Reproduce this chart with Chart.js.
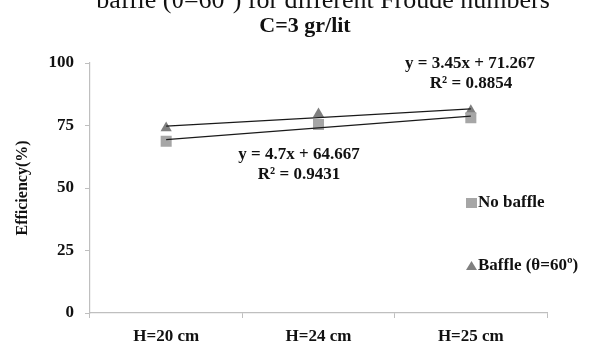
<!DOCTYPE html>
<html>
<head>
<meta charset="utf-8">
<script src="https://cdn.jsdelivr.net/npm/chart.js@4.4.1/dist/chart.umd.min.js"></script>
<style>
  html, body { margin: 0; padding: 0; background: #fff; }
  #wrap { width: 590px; height: 345px; position: relative; }
</style>
</head>
<body>
<div id="wrap"><canvas id="c" width="590" height="345"></canvas></div>
<script>
// ---- data ----
const categories = ['H=20 cm', 'H=24 cm', 'H=25 cm'];
const noBaffle = [68.7, 75.4, 78.1];
const baffle60 = [74.0, 79.6, 80.9];
// linear trendlines (values of the displayed equations at x = 1, 2, 3)
const trendNoBaffle = [69.367, 74.067, 78.767];
const trendBaffle = [74.717, 78.167, 81.617];
const yTicks = [0, 25, 50, 75, 100];
const seriesLabels = ['No baffle', 'Baffle (θ=60º)'];
const equationLabels = [
  ['y = 4.7x + 64.667', 'R² = 0.9431'],
  ['y = 3.45x + 71.267', 'R² = 0.8854']
];
const titleText = 'C=3 gr/lit';
const captionText = 'baffle (θ=60º) for different Froude numbers';
const yTitle = 'Efficiency(%)';

const SERIF = '"Liberation Serif", "Times New Roman", serif';

const overlayPlugin = {
  id: 'overlay',
  afterDraw(chart) {
    const ctx = chart.ctx;
    ctx.save();
    // cropped caption at very top
    ctx.fillStyle = '#111';
    ctx.font = '26px ' + SERIF;
    ctx.textAlign = 'center';
    ctx.textBaseline = 'alphabetic';
    ctx.fillText(captionText, 323, 8);

    // chart title
    ctx.font = 'bold 22px ' + SERIF;
    ctx.fillText(titleText, 305, 32);

    // trendline equations
    ctx.font = 'bold 17px ' + SERIF;
    ctx.textBaseline = 'middle';
    ctx.fillText(equationLabels[0][0], 299, 155);
    ctx.fillText(equationLabels[0][1], 299, 175);
    ctx.fillText(equationLabels[1][0], 470, 64);
    ctx.fillText(equationLabels[1][1], 471, 84);

    // legend
    const ds = chart.data.datasets;
    ctx.textAlign = 'left';
    ctx.fillStyle = ds[0].pointBackgroundColor;
    ctx.fillRect(466, 198, 11, 10);
    ctx.fillStyle = '#111';
    ctx.fillText(ds[0].label, 478, 203);
    ctx.fillStyle = ds[1].pointBackgroundColor;
    ctx.beginPath();
    ctx.moveTo(471.5, 261);
    ctx.lineTo(477, 270);
    ctx.lineTo(466, 270);
    ctx.closePath();
    ctx.fill();
    ctx.fillStyle = '#111';
    ctx.fillText(ds[1].label, 478, 266);
    ctx.restore();
  }
};

new Chart(document.getElementById('c'), {
  type: 'line',
  data: {
    labels: categories,
    datasets: [
      {
        label: seriesLabels[0],
        data: noBaffle,
        showLine: false,
        pointStyle: 'rect',
        pointRadius: 7.8,
        pointHoverRadius: 7.8,
        pointBackgroundColor: '#a6a6a6',
        pointBorderColor: '#a6a6a6',
        pointBorderWidth: 0,
        order: 1
      },
      {
        label: seriesLabels[1],
        data: baffle60,
        showLine: false,
        pointStyle: 'triangle',
        pointRadius: 6.5,
        pointHoverRadius: 6.5,
        pointBackgroundColor: '#7f7f7f',
        pointBorderColor: '#7f7f7f',
        pointBorderWidth: 0,
        order: 2
      },
      {
        label: 'trend1',
        data: trendNoBaffle,
        borderColor: '#1a1a1a',
        borderWidth: 1.2,
        pointRadius: 0,
        fill: false,
        order: 0
      },
      {
        label: 'trend2',
        data: trendBaffle,
        borderColor: '#1a1a1a',
        borderWidth: 1.2,
        pointRadius: 0,
        fill: false,
        order: 0
      }
    ]
  },
  options: {
    responsive: false,
    animation: false,
    events: [],
    layout: { padding: { left: 0, right: 43, top: 63, bottom: 0 } },
    plugins: {
      legend: { display: false },
      tooltip: { enabled: false },
      title: { display: false }
    },
    scales: {
      x: {
        type: 'category',
        offset: true,
        afterFit(scale) { scale.height = 32; },
        border: { display: true, color: '#bfbfbf', width: 1.2 },
        grid: { display: true, drawOnChartArea: false, drawTicks: true, tickLength: 5, color: '#bfbfbf', offset: true },
        ticks: { color: '#111', font: { family: SERIF, size: 17, weight: 'bold' }, padding: 8, maxRotation: 0 }
      },
      y: {
        min: 0,
        max: 100,
        afterFit(scale) { scale.width = 90; },
        afterBuildTicks(scale) { scale.ticks = yTicks.map(v => ({ value: v })); },
        border: { display: true, color: '#bfbfbf', width: 1.2 },
        grid: { display: true, drawOnChartArea: false, drawTicks: true, tickLength: 5, color: '#bfbfbf' },
        ticks: { color: '#111', font: { family: SERIF, size: 17, weight: 'bold' }, padding: 11 },
        title: {
          display: true,
          text: yTitle,
          color: '#111',
          font: { family: SERIF, size: 16, weight: 'bold' },
          padding: { top: 13, bottom: 0 }
        }
      }
    }
  },
  plugins: [overlayPlugin]
});
</script>
</body>
</html>
